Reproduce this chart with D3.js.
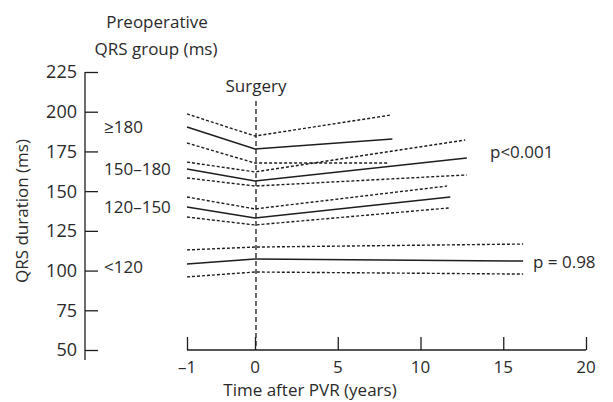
<!DOCTYPE html>
<html>
<head>
<meta charset="utf-8">
<script src="https://cdn.jsdelivr.net/npm/d3@7"></script>
<style>
  body { margin: 0; background: #fff; }
  text { font-family: "Open Sans", sans-serif; fill: #2a2a2a; }
</style>
</head>
<body>
<svg id="chart" width="613" height="402"></svg>
<script>
var groups = ["\u2265180", "150\u2013180", "120\u2013150", "<120"];
// [pre-op (-1), surgery (0), last follow-up] for each group
var meanYears = [[-1, 0, 8.3], [-1, 0, 12.8], [-1, 0, 11.8], [-1, 0, 16.2]];
var upperYears = [[-1, 0, 8.2], [-1, 0, 12.7], [-1, 0, 11.6], [-1, 0, 16.2]];
var lowerYears = [[-1, 0, 8.0], [-1, 0, 12.8], [-1, 0, 11.7], [-1, 0, 16.2]];
var meanQRS = [[190.4, 176.5, 182.8], [163.9, 156.4, 170.9], [140.0, 133.1, 146.3], [104.1, 107.3, 106.0]];
var upperQRS = [[198.6, 184.7, 197.9], [168.3, 162.1, 182.2], [146.3, 138.8, 153.2], [113.0, 114.8, 116.7]];
var lowerQRS = [[180.3, 167.7, 167.7], [158.3, 153.2, 160.2], [133.7, 128.7, 139.4], [96.0, 99.1, 97.8]];
var xTicks = [-1, 0, 5, 10, 15, 20];
var yTicks = [50, 75, 100, 125, 150, 175, 200, 225];
var pValues = ["p<0.001", "p = 0.98"];

var svg = d3.select("#chart");
var fs = 17;

// x axis has a break between -1 and 0
var x = d3.scaleLinear().domain([-1, 0, 20]).range([187, 255, 586]);
var y = d3.scaleLinear().domain([50, 225]).range([350, 72]);

var ink = "#1e1e1e";

// y axis, ticks pointing inward
var yAxis = svg.append("g").attr("transform", "translate(85,0)")
    .call(d3.axisRight(y).tickValues(yTicks).tickSize(13).tickFormat(""));
yAxis.select(".domain").remove();
yAxis.selectAll("line").attr("stroke", ink).attr("stroke-width", 1.3);
svg.append("line")
    .attr("x1", 85).attr("x2", 85)
    .attr("y1", y(225)).attr("y2", y(50) + 10)
    .attr("stroke", ink).attr("stroke-width", 1.3);
svg.selectAll(".ylab").data(yTicks).enter().append("text")
    .attr("x", 77).attr("y", function(d) { return y(d); })
    .attr("dy", "0.36em")
    .attr("text-anchor", "end")
    .attr("font-size", fs + 1)
    .text(function(d) { return d; });

// x axis, ticks pointing up
var xAxis = svg.append("g").attr("transform", "translate(0,350)")
    .call(d3.axisTop(x).tickValues(xTicks).tickSize(13).tickFormat(""));
xAxis.select(".domain").remove();
xAxis.selectAll("line").attr("stroke", ink).attr("stroke-width", 1.3);
svg.append("line")
    .attr("x1", x(-1)).attr("x2", x(20))
    .attr("y1", 350).attr("y2", 350)
    .attr("stroke", ink).attr("stroke-width", 1.3);
svg.selectAll(".xlab").data(xTicks).enter().append("text")
    .attr("x", function(d) { return x(d); }).attr("y", 367)
    .attr("dy", "0.36em")
    .attr("text-anchor", "middle")
    .attr("font-size", fs)
    .text(function(d) { return d < 0 ? "\u2013" + Math.abs(d) : d; });

// titles
svg.append("text").attr("x", 310).attr("y", 390).attr("dy", "0.36em")
    .attr("text-anchor", "middle").attr("font-size", fs)
    .text("Time after PVR (years)");
svg.append("text")
    .attr("transform", "translate(22,211) rotate(-90)")
    .attr("dy", "0.36em")
    .attr("text-anchor", "middle").attr("font-size", fs)
    .text("QRS duration (ms)");
svg.append("text").attr("x", 157).attr("y", 22).attr("dy", "0.36em")
    .attr("text-anchor", "middle").attr("font-size", fs)
    .text("Preoperative");
svg.append("text").attr("x", 156).attr("y", 49).attr("dy", "0.36em")
    .attr("text-anchor", "middle").attr("font-size", fs)
    .text("QRS group (ms)");

// surgery marker
svg.append("line")
    .attr("x1", x(0) + 1).attr("x2", x(0) + 1)
    .attr("y1", 101).attr("y2", 350)
    .attr("stroke", ink).attr("stroke-width", 1.3)
    .attr("stroke-dasharray", "5,3");
svg.append("text").attr("x", x(0) + 1).attr("y", 86).attr("dy", "0.36em")
    .attr("text-anchor", "middle").attr("font-size", fs)
    .text("Surgery");

var line = d3.line()
    .x(function(d) { return x(d[0]); })
    .y(function(d) { return y(d[1]); });

function drawSeries(years, vals, dashed) {
    svg.selectAll(null).data(vals).enter().append("path")
        .attr("d", function(d, i) { return line(d3.zip(years[i], d)); })
        .attr("fill", "none")
        .attr("stroke", ink)
        .attr("stroke-width", dashed ? 1.4 : 1.5)
        .attr("stroke-dasharray", dashed ? "3,2" : null);
}
drawSeries(upperYears, upperQRS, true);
drawSeries(lowerYears, lowerQRS, true);
drawSeries(meanYears, meanQRS, false);

// group labels next to the preoperative value
svg.selectAll(".glab").data(groups).enter().append("text")
    .attr("x", 104)
    .attr("y", function(d, i) { return y(meanQRS[i][0]) + (i == 3 ? 3 : 0); })
    .attr("dy", "0.36em")
    .attr("font-size", fs)
    .text(function(d) { return d; });

svg.append("text").attr("x", 490).attr("y", y(174.6)).attr("dy", "0.36em")
    .attr("font-size", fs).text(pValues[0]);
svg.append("text").attr("x", 533).attr("y", y(meanQRS[3][2]) + 1).attr("dy", "0.36em")
    .attr("font-size", fs).text(pValues[1]);
</script>
</body>
</html>
